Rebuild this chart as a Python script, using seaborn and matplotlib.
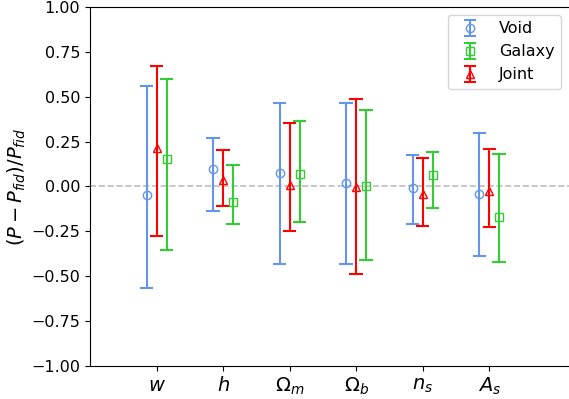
import numpy as np
import pandas as pd
import matplotlib
matplotlib.use('Agg')
import matplotlib.pyplot as plt
import seaborn as sns
from matplotlib.container import ErrorbarContainer
from matplotlib.lines import Line2D
from matplotlib.collections import LineCollection

# parametros e rotulos
params = ['w', 'h', 'Om', 'Ob', 'ns', 'As']
tick_labels = ['$w$', '$h$', r'$\Omega_m$', r'$\Omega_b$', '$n_s$', '$A_s$']

# valor central e limites (inferior / superior) de cada sonda
void_mid = [-0.045, 0.095, 0.076, 0.020, -0.008, -0.040]
void_lo = [-0.568, -0.136, -0.430, -0.430, -0.210, -0.386]
void_hi = [0.560, 0.268, 0.466, 0.466, 0.176, 0.298]

galaxy_mid = [0.151, -0.084, 0.071, 0.000, 0.065, -0.172]
galaxy_lo = [-0.354, -0.210, -0.200, -0.410, -0.120, -0.422]
galaxy_hi = [0.600, 0.119, 0.365, 0.427, 0.190, 0.179]

joint_mid = [0.216, 0.037, 0.009, -0.005, -0.043, -0.027]
joint_lo = [-0.274, -0.110, -0.246, -0.490, -0.220, -0.224]
joint_hi = [0.672, 0.203, 0.354, 0.486, 0.156, 0.210]

probes = {
    'Void': (void_lo, void_mid, void_hi),
    'Galaxy': (galaxy_lo, galaxy_mid, galaxy_hi),
    'Joint': (joint_lo, joint_mid, joint_hi),
}
cores = {'Void': 'cornflowerblue', 'Galaxy': 'limegreen', 'Joint': 'red'}
marcadores = {'Void': 'o', 'Galaxy': 's', 'Joint': '^'}
ordem = ['Void', 'Joint', 'Galaxy']  # posicao no eixo x (esq -> dir)

linhas = []
for nome, (lo, mid, hi) in probes.items():
    for i, p in enumerate(params):
        for v in (lo[i], mid[i], hi[i]):
            linhas.append({'param': p, 'valor': v, 'probe': nome})
df = pd.DataFrame(linhas)

fig, ax = plt.subplots(figsize=(5.69, 3.99), dpi=100)
fig.subplots_adjust(left=90 / 569, right=1.0, top=1 - 7 / 399, bottom=1 - 366 / 399)

ax.axhline(0, color='gray', linestyle='--', alpha=0.5, linewidth=1.2, zorder=0)

sns.pointplot(data=df, x='param', y='valor', hue='probe', order=params,
              hue_order=ordem, palette=cores,
              estimator='median', errorbar=lambda v: (v.min(), v.max()),
              dodge=0.3, markers=[marcadores[k] for k in ordem],
              linestyles='none', capsize=0.17, legend=False,
              linewidth=1.5, markersize=6, markeredgewidth=1,
              markerfacecolor='none', ax=ax)

ax.set_xlim(-1, 6.2)
ax.set_ylim(-1, 1)
ax.set_yticks(np.arange(-1, 1.01, 0.25))
ax.set_xticks(range(len(params)))
ax.set_xticklabels(tick_labels, fontsize=14)
ax.tick_params(axis='y', labelsize=11.5)
ax.set_xlabel('')
ax.set_ylabel(r'$(P - P_{fid})/P_{fid}$', fontsize=14, labelpad=2)
ax.spines['right'].set_visible(False)

# legenda no estilo errorbar
handles = []
for nome in ['Void', 'Galaxy', 'Joint']:
    c = cores[nome]
    ln = Line2D([], [], color=c, marker=marcadores[nome], markerfacecolor='none',
                markersize=6, markeredgewidth=1, linestyle='none')
    cap = Line2D([], [], color=c, markersize=8, markeredgewidth=1.5)
    bar = LineCollection([], colors=c, linewidths=1.5)
    handles.append(ErrorbarContainer((ln, (cap, cap), (bar,)), has_xerr=False,
                                     has_yerr=True, label=nome))
ax.legend(handles=handles, loc='upper right', fontsize=11.5)

plt.savefig('out.png', dpi=100)
